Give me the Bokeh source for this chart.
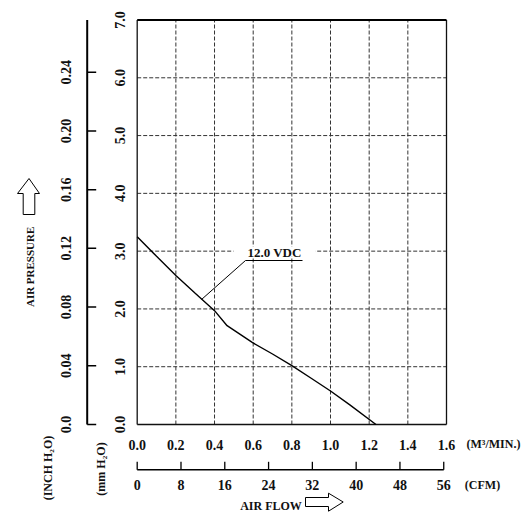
import numpy as np
from bokeh.plotting import figure
from bokeh.models import Range1d
from bokeh.core.properties import value
from bokeh.embed import file_html
from bokeh.resources import INLINE

# Fan performance curve at 12.0 VDC: air flow (m^3/min) vs static pressure (mm H2O)
flow_m3min = [0.0, 0.1, 0.2, 0.3, 0.4, 0.465, 0.595, 0.7, 0.8, 0.9, 1.0, 1.1, 1.235]
pressure_mm = [3.25, 2.91, 2.58, 2.27, 1.97, 1.71, 1.42, 1.22, 1.02, 0.80, 0.58, 0.34, 0.0]

flow_ticks = [0.0, 0.2, 0.4, 0.6, 0.8, 1.0, 1.2, 1.4, 1.6]
flow_labels = ["0.0", "0.2", "0.4", "0.6", "0.8", "1.0", "1.2", "1.4", "1.6"]
cfm_ticks = [0, 8, 16, 24, 32, 40, 48, 56]
cfm_labels = ["0", "8", "16", "24", "32", "40", "48", "56"]
mm_ticks = [0, 1, 2, 3, 4, 5, 6, 7]
mm_labels = ["0.0", "1.0", "2.0", "3.0", "4.0", "5.0", "6.0", "7.0"]
inch_ticks = [0.0, 0.04, 0.08, 0.12, 0.16, 0.20, 0.24]
inch_labels = ["0.0", "0.04", "0.08", "0.12", "0.16", "0.20", "0.24"]

curve_label = "12.0 VDC"
MM_PER_INCH = 25.4
CFM_PER_M3MIN = 35.3147

FONT = value("Liberation Serif")
NUM_SIZE = "14px"
TXT_SIZE = "12px"
INK = "#111111"

# where the pressure/flow grid sits on the canvas (pixels)
W, H = 530, 514
FL, FR, FT, FB = 136.7, 446, 19.5, 424
SX = (FR - FL) / (flow_ticks[-1] - flow_ticks[0])
SY = (FB - FT) / (mm_ticks[-1] - mm_ticks[0])


def at(px, py):
    """Canvas pixel position -> (m^3/min, mm H2O) coordinates."""
    return (px - FL) / SX, (FB - py) / SY


def dx(n):
    return n / SX


def dy(n):
    return n / SY


x_lo, y_top = at(0, 0)
x_hi, y_lo = at(W, H)

p = figure(width=W, height=H, x_range=Range1d(x_lo, x_hi), y_range=Range1d(y_lo, y_top),
           x_axis_type=None, y_axis_type=None, output_backend="svg", toolbar_location=None,
           min_border=0)
p.outline_line_color = None
p.background_fill_color = "white"
p.border_fill_color = "white"
p.grid.visible = False

x0, x1 = flow_ticks[0], flow_ticks[-1]
y0, y1 = mm_ticks[0], mm_ticks[-1]

# dashed grid
inner_x = flow_ticks[1:-1]
inner_y = mm_ticks[1:-1]
p.segment(x0=inner_x, y0=[y0] * len(inner_x), x1=inner_x, y1=[y1] * len(inner_x),
          line_color="#333333", line_dash="4 2", line_width=1)
p.segment(x0=[x0] * len(inner_y), y0=inner_y, x1=[x1] * len(inner_y), y1=inner_y,
          line_color="#333333", line_dash="4 2", line_width=1)

# frame, heavier along the top
p.segment(x0=[x0, x1, x0], y0=[y0, y0, y0], x1=[x0, x1, x1], y1=[y1, y1, y0],
          line_color=INK, line_width=1.3)
p.segment(x0=[x0], y0=[y1], x1=[x1], y1=[y1], line_color="black", line_width=2)

# mm H2O tick labels
mm_x, _ = at(119, 0)
p.text(x=[mm_x] * len(mm_ticks), y=mm_ticks, text=mm_labels, angle=np.pi / 2,
       text_font=FONT, text_font_style="bold", text_font_size=NUM_SIZE,
       text_align="center", text_baseline="middle", text_color=INK)

# inch H2O scale: line, inward ticks, labels
inch_y = [t * MM_PER_INCH for t in inch_ticks]
ax_x, _ = at(86.7, 0)
p.segment(x0=[ax_x], y0=[y0], x1=[ax_x], y1=[y1], line_color="black", line_width=2)
p.segment(x0=[ax_x] * len(inch_y), y0=inch_y, x1=[ax_x + dx(9)] * len(inch_y), y1=inch_y,
          line_color="black", line_width=1.5)
inch_lx, _ = at(65, 0)
p.text(x=[inch_lx] * len(inch_y), y=inch_y, text=inch_labels, angle=np.pi / 2,
       text_font=FONT, text_font_style="bold", text_font_size=NUM_SIZE,
       text_align="center", text_baseline="middle", text_color=INK)

# m^3/min tick labels
_, flow_ly = at(0, 444)
p.text(x=flow_ticks, y=[flow_ly] * len(flow_ticks), text=flow_labels,
       text_font=FONT, text_font_style="bold", text_font_size=NUM_SIZE,
       text_align="center", text_baseline="middle", text_color=INK)

# CFM scale: line, upward ticks, labels
cfm_x = [c / CFM_PER_M3MIN for c in cfm_ticks]
_, cfm_ay = at(0, 469.3)
p.segment(x0=[cfm_x[0]], y0=[cfm_ay], x1=[cfm_x[-1]], y1=[cfm_ay], line_color="black", line_width=1.6)
p.segment(x0=cfm_x, y0=[cfm_ay] * len(cfm_x), x1=cfm_x, y1=[cfm_ay + dy(8)] * len(cfm_x),
          line_color="black", line_width=1.3)
_, cfm_ly = at(0, 484)
p.text(x=cfm_x, y=[cfm_ly] * len(cfm_x), text=cfm_labels,
       text_font=FONT, text_font_style="bold", text_font_size=NUM_SIZE,
       text_align="center", text_baseline="middle", text_color=INK)

# performance curve
p.line(flow_m3min, pressure_mm, line_color="black", line_width=1.4)

# curve callout: cleared gap in the grid line, leader and underline
gx0, gy0 = at(233, 246)
gx1, gy1 = at(315, 256)
p.quad(left=gx0, right=gx1, bottom=gy1, top=gy0, fill_color="white", line_color=None)
lx0, ly0 = at(201, 299)
lx1, ly1 = at(245, 260)
lx2, _ = at(302, 260)
p.line([lx0, lx1, lx2], [ly0, ly1, ly1], line_color="black", line_width=1)


def text_at(px, py, text, size=TXT_SIZE, angle=0.0):
    x, y = at(px, py)
    p.text(x=[x], y=[y], text=[text], angle=angle, text_font=FONT, text_font_style="bold",
           text_font_size=size, text_align="center", text_baseline="middle", text_color=INK)


text_at(274, 252, curve_label, size="13px")
text_at(493, 443, "(M\u00b3/MIN.)")
text_at(482, 484, "(CFM)")
text_at(272, 505, "AIR  FLOW")
text_at(29, 265, "AIR  PRESSURE", size="11px", angle=np.pi / 2)
text_at(47, 466, "(INCH  H\u2082O)", angle=np.pi / 2)
text_at(100, 467, "(mm  H\u2082O)", angle=np.pi / 2)


def arrow(points):
    xs, ys = zip(*(at(a, b) for a, b in points))
    p.patch(list(xs), list(ys), fill_color="white", line_color="black", line_width=1)


arrow([(28.5, 178), (39, 193), (34.3, 193), (34.3, 214), (22.7, 214), (22.7, 193), (17, 193)])
arrow([(305, 497), (328, 497), (328, 492.7), (342.7, 501.5), (328, 510.7), (328, 506), (305, 506)])

open("out.html", "w").write(file_html(p, INLINE))
